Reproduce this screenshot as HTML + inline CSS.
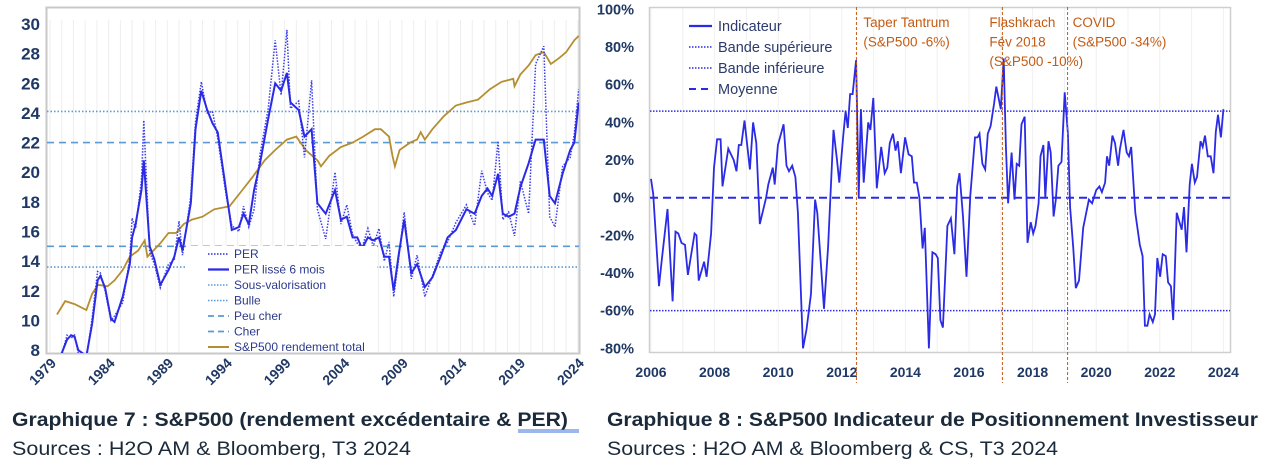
<!DOCTYPE html>
<html><head><meta charset="utf-8">
<style>
html,body{margin:0;padding:0;background:#fff;}
svg{display:block;font-family:"Liberation Sans",sans-serif;}
</style></head>
<body>
<svg id="root" width="1271" height="475" viewBox="0 0 1271 475" xmlns="http://www.w3.org/2000/svg">
<defs>
<clipPath id="clipL"><rect x="47" y="8" width="532" height="345"/></clipPath>
<clipPath id="clipR"><rect x="649" y="8" width="582" height="345"/></clipPath>
</defs>
<g id="left"></g>
<g id="right"></g>
<text x="12" y="426" font-size="19" font-weight="bold" fill="#1b2a3a" textLength="556" lengthAdjust="spacingAndGlyphs">Graphique 7 : S&amp;P500 (rendement excédentaire &amp; PER)</text>
<line x1="518" y1="430" x2="579" y2="430" stroke="#3a6fd8" stroke-width="1"/>
<line x1="518" y1="432" x2="579" y2="432" stroke="#3a6fd8" stroke-width="1"/>
<text x="12" y="455" font-size="19" fill="#1b2a3a" textLength="399" lengthAdjust="spacingAndGlyphs">Sources : H2O AM &amp; Bloomberg, T3 2024</text>
<text x="607" y="426" font-size="19" font-weight="bold" fill="#1b2a3a" textLength="651" lengthAdjust="spacingAndGlyphs">Graphique 8 : S&amp;P500 Indicateur de Positionnement Investisseur</text>
<text x="607" y="455" font-size="19" fill="#1b2a3a" textLength="451" lengthAdjust="spacingAndGlyphs">Sources : H2O AM &amp; Bloomberg &amp; CS, T3 2024</text>
</svg>
<script>
// ===== Left chart data =====
const perYears = [1979.9,1980.45,1980.8,1981.1,1981.4,1982.1,1982.6,1983.06,1983.3,1983.7,1984.2,1984.5,1985.2,1985.8,1986.0,1986.3,1986.8,1987.0,1987.5,1987.9,1988.4,1989.1,1989.6,1990.0,1990.3,1991.0,1991.4,1991.9,1992.4,1992.85,1993.3,1994.0,1994.5,1995.1,1995.5,1995.95,1996.4,1996.9,1997.6,1998.2,1998.7,1999.2,1999.5,2000.2,2000.7,2001.3,2001.8,2002.5,2003.3,2003.8,2004.3,2004.8,2005.2,2005.6,2006.1,2006.55,2007.04,2007.5,2007.9,2008.3,2008.7,2009.2,2009.8,2010.3,2010.95,2011.6,2012.3,2012.9,2013.6,2014.5,2015.2,2015.8,2016.3,2016.7,2017.2,2017.6,2018.1,2018.6,2019.1,2019.8,2020.4,2021.1,2021.6,2022.05,2022.7,2023.35,2023.7,2024.07];
const perSmooth = [7.6,8.7,9.0,8.9,8.0,7.6,9.8,12.7,13.0,12.2,10.1,9.9,11.6,13.8,15.6,16.5,18.8,20.8,15.0,14.1,12.4,13.4,14.3,15.6,14.7,17.9,22.9,25.5,24.2,23.3,22.7,18.8,16.1,16.3,17.2,16.5,18.8,20.6,23.6,26.0,25.5,26.7,24.7,24.2,22.4,22.9,17.9,17.2,18.8,16.8,17.0,15.6,15.6,14.85,15.6,15.4,15.6,14.3,14.3,12.0,14.3,16.8,13.2,13.8,12.25,12.9,14.3,15.6,16.1,17.5,17.2,18.4,18.9,18.4,19.9,17.2,17.0,17.2,19.0,20.6,22.2,22.2,18.4,17.9,19.9,21.5,22.0,24.7];
const perRaw = [7.4,9.0,8.8,9.0,7.8,7.4,10.2,13.3,13.2,12.0,10.0,10.3,11.2,14.2,16.9,16.2,19.5,23.5,14.6,13.8,12.2,13.8,14.1,16.7,14.4,18.4,23.4,26.1,24.0,24.1,22.3,18.5,16.4,16.0,17.7,16.3,17.5,21.2,24.3,28.9,25.2,29.6,24.3,24.8,21.0,26.2,17.5,15.5,20.0,16.5,17.8,15.8,15.2,14.9,16.2,15.0,16.2,14.0,15.3,11.6,14.0,17.3,12.8,14.4,11.6,13.0,14.6,15.3,16.6,17.8,16.4,20.1,18.6,18.1,22.1,16.8,17.3,15.7,19.4,17.2,27.3,28.5,17.0,16.3,20.4,21.0,22.6,25.6];
const spxYears = [1979.6,1980.3,1981.1,1982.1,1982.6,1983.1,1983.9,1984.5,1985.2,1985.8,1986.5,1987.07,1987.3,1987.8,1988.4,1989.1,1989.75,1990.4,1991.1,1992.0,1993.0,1994.3,1995.3,1996.3,1997.3,1998.2,1999.2,2000.0,2000.8,2001.8,2002.1,2002.8,2003.8,2004.8,2005.7,2006.7,2007.2,2007.9,2008.2,2008.4,2008.8,2009.7,2010.3,2010.6,2010.95,2011.6,2012.6,2013.6,2014.5,2015.5,2016.5,2017.5,2018.5,2018.6,2019.1,2019.8,2020.4,2021.1,2021.7,2022.4,2023.0,2023.7,2024.07];
const spxValues = [10.4,11.3,11.1,10.7,11.8,12.4,12.3,12.7,13.4,14.3,14.7,15.4,14.3,14.7,15.2,15.9,15.9,16.5,16.8,17.0,17.5,17.7,18.7,19.7,20.8,21.5,22.2,22.4,21.5,20.8,20.4,21.1,21.7,22.0,22.4,22.9,22.9,22.4,21.1,20.4,21.5,22.0,22.2,22.7,22.2,22.9,23.8,24.5,24.7,24.9,25.6,26.1,26.3,25.8,26.6,27.2,27.9,28.1,27.3,27.7,28.1,28.9,29.2];
const refLevels = [24.1, 22.0, 15.0, 13.6];
const refNames = ['bulle-line','cher-line','peu-cher-line','sous-valorisation-line'];
const leftYTicks = [30,28,26,24,22,20,18,16,14,12,10,8];
const leftXTicks = [1979,1984,1989,1994,1999,2004,2009,2014,2019,2024];
const legendLabels = ['PER','PER lissé 6 mois','Sous-valorisation','Bulle','Peu cher','Cher','S&P500 rendement total'];

// ===== Right chart data =====
const indYears = [2006.0,2006.07,2006.25,2006.34,2006.52,2006.68,2006.77,2006.86,2006.96,2007.07,2007.16,2007.37,2007.43,2007.5,2007.67,2007.75,2007.89,2007.98,2008.08,2008.19,2008.25,2008.43,2008.6,2008.69,2008.76,2008.84,2008.94,2009.11,2009.21,2009.31,2009.42,2009.62,2009.69,2009.83,2009.89,2009.99,2010.17,2010.26,2010.34,2010.44,2010.54,2010.62,2010.78,2010.89,2011.03,2011.16,2011.23,2011.44,2011.57,2011.74,2011.85,2011.92,2012.04,2012.12,2012.19,2012.26,2012.34,2012.45,2012.53,2012.6,2012.69,2012.83,2012.9,2012.99,2013.1,2013.24,2013.35,2013.43,2013.51,2013.61,2013.69,2013.76,2013.86,2013.99,2014.1,2014.2,2014.27,2014.36,2014.44,2014.54,2014.61,2014.74,2014.85,2014.95,2015.02,2015.1,2015.18,2015.32,2015.43,2015.54,2015.63,2015.7,2015.81,2015.92,2016.04,2016.19,2016.27,2016.33,2016.42,2016.51,2016.59,2016.68,2016.79,2016.86,2017.0,2017.09,2017.16,2017.23,2017.34,2017.43,2017.5,2017.58,2017.65,2017.75,2017.84,2017.94,2018.02,2018.09,2018.19,2018.25,2018.34,2018.4,2018.5,2018.57,2018.66,2018.73,2018.81,2018.91,2019.01,2019.11,2019.18,2019.28,2019.36,2019.46,2019.59,2019.77,2019.87,2020.0,2020.1,2020.18,2020.28,2020.34,2020.41,2020.51,2020.59,2020.69,2020.75,2020.86,2020.96,2021.03,2021.1,2021.23,2021.37,2021.46,2021.53,2021.61,2021.68,2021.78,2021.85,2021.92,2022.01,2022.09,2022.19,2022.26,2022.35,2022.42,2022.53,2022.69,2022.76,2022.84,2022.94,2023.01,2023.1,2023.17,2023.28,2023.35,2023.42,2023.51,2023.6,2023.69,2023.76,2023.83,2023.92,2024.0];
const indValues = [10,2,-47,-33,-6,-55,-18,-19,-24,-25,-41,-19,-20,-44,-34,-42,-19,16,31,31,6,26,20,14,28,28,41,15,40,29,-14,0,7,16,7,28,39,17,14,17,11,-8,-80,-70,-51,-1,-8,-59,-26,36,20,8,32,46,37,55,55,73,0,47,8,40,36,53,5,27,13,16,29,34,25,30,13,32,23,22,8,8,0,-27,-16,-80,-29,-30,-32,-65,-69,-15,-11,-30,6,13,-10,-42,1,32,32,34,18,15,34,38,50,59,47,74,27,-3,24,-1,18,17,39,43,-24,-13,-19,-15,-3,22,28,0,30,24,-10,-1,17,19,56,34,-5,-27,-48,-44,-16,-1,-3,4,6,3,8,22,17,33,29,17,26,36,24,22,27,-8,-25,-31,-68,-68,-62,-66,-62,-32,-42,-30,-31,-45,-47,-65,-8,-17,-5,-29,7,18,8,11,30,27,33,22,22,13,35,44,32,47];
const upperBand = 46;
const lowerBand = -60;
const meanLevel = 0;
const rightYTicks = [100,80,60,40,20,0,-20,-40,-60,-80];
const rightXTicks = [2006,2008,2010,2012,2014,2016,2018,2020,2022,2024];
const eventYears = [2012.46, 2017.05, 2019.1];
const eventLabels = [['Taper Tantrum','(S&P500 -6%)'],['Flashkrach','Fév 2018','(S&P500 -10%)'],['COVID','(S&P500 -34%)']];
const eventTextOffset = [7,-13,5];
const rightLegend = ['Indicateur','Bande supérieure','Bande inférieure','Moyenne'];

const NS='http://www.w3.org/2000/svg';
function mk(parent, tag, attrs, text){
  const e=document.createElementNS(NS,tag);
  for(const k in attrs) e.setAttribute(k,attrs[k]);
  if(text!==undefined) e.textContent=text;
  parent.appendChild(e);
  return e;
}
const NAVY='#1f3864', BLUE='#2b2be6', LBLUE='#5b9bd5', GOLD='#b58e30', ORANGE='#c55a11';

// ---------- LEFT ----------
const L=document.getElementById('left');
const lx=y=>50+(y-1979)*11.73;
const ly=v=>24+(30-v)*14.82;
for(let yr=1979;yr<=2024;yr++){
  const g=mk(L,'line',{x1:lx(yr),x2:lx(yr),y1:20,y2:352,stroke:'#eeeeee','stroke-width':1});
  
  
}
const lf=mk(L,'rect',{x:46.5,y:7.5,width:533,height:346,fill:'none',stroke:'#c8c8c8','stroke-width':2});


leftYTicks.forEach(v=>{
  const t=mk(L,'text',{x:40,y:ly(v)+6,'text-anchor':'end','font-size':17,'font-weight':'bold',fill:NAVY},String(v));
  
  
});
leftXTicks.forEach(v=>{
  const x=lx(v)+7;
  const t=mk(L,'text',{x:x,y:364,'text-anchor':'end','font-size':14,'font-weight':'bold',fill:NAVY,transform:`rotate(-45 ${x} 364)`},String(v));
  
  
});
const Lp=mk(L,'g',{'clip-path':'url(#clipL)'});
refLevels.forEach((v,i)=>{
  const dash=(i===0||i===3)?'1.5,2':'7,5';
  const r=mk(Lp,'line',{x1:47,x2:579,y1:ly(v),y2:ly(v),stroke:LBLUE,'stroke-width':1.6,'stroke-dasharray':dash});
  
  
});
function pathD(xs,ys,fx,fy){return xs.map((x,i)=>(i?'L':'M')+fx(x).toFixed(1)+','+fy(ys[i]).toFixed(1)).join(' ');}
const sp=mk(Lp,'path',{d:pathD(spxYears,spxValues,lx,ly),fill:'none',stroke:GOLD,'stroke-width':1.8});


const pr=mk(Lp,'path',{d:pathD(perYears,perRaw,lx,ly),fill:'none',stroke:'#3d3df0','stroke-width':1.5,'stroke-dasharray':'1.5,1.5'});


const ps=mk(Lp,'path',{d:pathD(perYears,perSmooth,lx,ly),fill:'none',stroke:BLUE,'stroke-width':2});


// legend
const lg=mk(L,'g',{});


mk(lg,'rect',{x:186,y:246,width:191,height:106,fill:'#fff'});
const styles=[[BLUE,'1.5,1.5',1.6],[BLUE,'',2.2],[LBLUE,'1.5,1.5',1.6],[LBLUE,'1.5,1.5',1.6],[LBLUE,'6,4',1.8],[LBLUE,'6,4',1.8],[GOLD,'',2]];
legendLabels.forEach((lab,i)=>{
  const yy=254+i*15.5;
  const e=mk(lg,'g',{});
  
  
  const a={x1:208,x2:229,y1:yy,y2:yy,stroke:styles[i][0],'stroke-width':styles[i][2]};
  if(styles[i][1]) a['stroke-dasharray']=styles[i][1];
  mk(e,'line',a);
  mk(e,'text',{x:234,y:yy+4,'font-size':12,fill:'#2c3a8c'},lab);
});

// ---------- RIGHT ----------
const R=document.getElementById('right');
const rx=y=>651+(y-2006)*31.8;
const ry=v=>197.7-v*1.883;
for(let yr=2006;yr<=2024;yr++){
  const g=mk(R,'line',{x1:rx(yr),x2:rx(yr),y1:8,y2:352,stroke:'#f0f0f0','stroke-width':1});
  
  
}
const rf=mk(R,'rect',{x:649.5,y:7.5,width:581,height:345,fill:'none',stroke:'#cfcfcf','stroke-width':1.5});


rightYTicks.forEach(v=>{
  const t=mk(R,'text',{x:634,y:ry(v)+5,'text-anchor':'end','font-size':14.5,'font-weight':'bold',fill:NAVY},v+'%');
  
  
});
rightXTicks.forEach(v=>{
  const t=mk(R,'text',{x:rx(v),y:377,'text-anchor':'middle','font-size':14,'font-weight':'bold',fill:NAVY},String(v));
  
  
});
const Rp=mk(R,'g',{'clip-path':'url(#clipR)'});
const ub=mk(Rp,'line',{x1:650,x2:1230,y1:ry(upperBand),y2:ry(upperBand),stroke:BLUE,'stroke-width':1.5,'stroke-dasharray':'1.5,1.5'});


const lb=mk(Rp,'line',{x1:650,x2:1230,y1:ry(lowerBand),y2:ry(lowerBand),stroke:BLUE,'stroke-width':1.5,'stroke-dasharray':'1.5,1.5'});


const mn=mk(Rp,'line',{x1:650,x2:1230,y1:ry(meanLevel),y2:ry(meanLevel),stroke:BLUE,'stroke-width':2,'stroke-dasharray':'8,5'});


const il=mk(Rp,'path',{d:pathD(indYears,indValues,rx,ry),fill:'none',stroke:BLUE,'stroke-width':1.8});


eventYears.forEach((yr,i)=>{
  const g=mk(R,'g',{});
  
  
  mk(g,'line',{x1:rx(yr),x2:rx(yr),y1:7,y2:383,stroke:ORANGE,'stroke-width':1,'stroke-dasharray':'3,2'});
  eventLabels[i].forEach((s,j)=>{
    mk(g,'text',{x:rx(yr)+eventTextOffset[i],y:27+j*19.5,'font-size':13.5,fill:ORANGE},s);
  });
});
const rl=mk(R,'g',{});


const rst=[['',2.2],['1.5,1.5',1.6],['1.5,1.5',1.6],['7,5',2]];
rightLegend.forEach((lab,i)=>{
  const yy=26+i*21;
  const e=mk(rl,'g',{});
  
  
  const a={x1:689,x2:712,y1:yy,y2:yy,stroke:BLUE,'stroke-width':rst[i][1]};
  if(rst[i][0]) a['stroke-dasharray']=rst[i][0];
  mk(e,'line',a);
  mk(e,'text',{x:718,y:yy+5,'font-size':14.5,fill:'#2c3a6c'},lab);
});
</script>
</body></html>
